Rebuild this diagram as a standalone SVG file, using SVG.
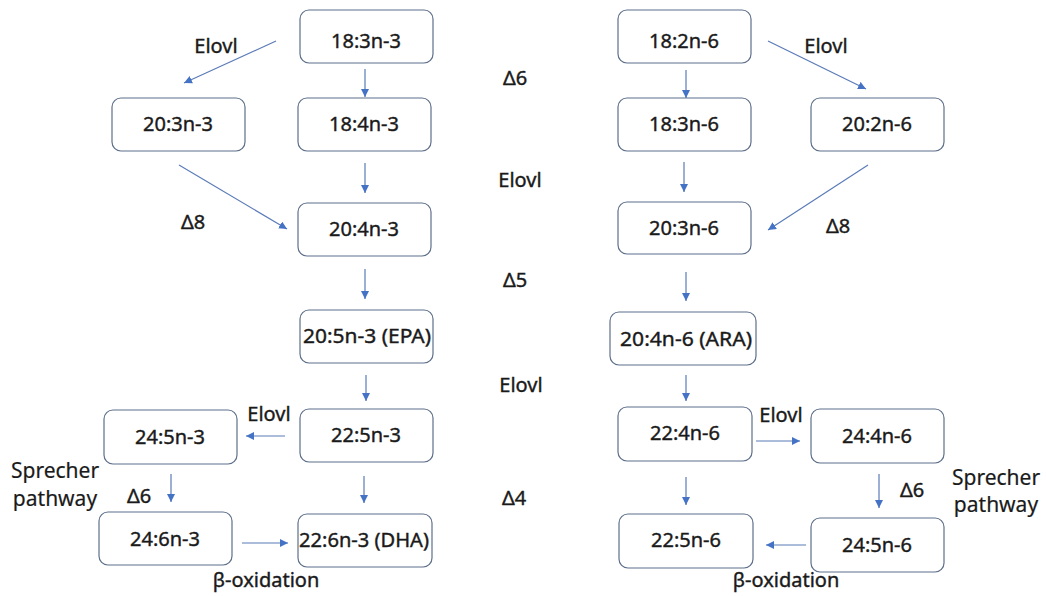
<svg xmlns="http://www.w3.org/2000/svg" width="1046" height="596" viewBox="0 0 1046 596">
<defs>
<marker id="ah" viewBox="0 0 10 10" refX="10" refY="5" markerWidth="8" markerHeight="8" markerUnits="userSpaceOnUse" orient="auto">
<path d="M0,0 L10,5 L0,10 z" fill="#4472C4"/>
</marker>
<style>
.box{fill:#fff;stroke:#5d6f8a;stroke-width:1.2}
.t{font-family:"Noto Sans","DejaVu Sans",sans-serif;font-size:20px;fill:#1a1a1a;stroke:#1a1a1a;stroke-width:0.4;text-anchor:middle}
.l{font-family:"Noto Sans","DejaVu Sans",sans-serif;font-size:20px;fill:#1a1a1a;stroke:#1a1a1a;stroke-width:0.4;text-anchor:middle}
.s{font-size:21px;stroke-width:0.2}
.c{stroke:#5b7bb8;stroke-width:1.2;fill:none;marker-end:url(#ah)}
</style>
</defs>
<rect width="1046" height="596" fill="#fff"/>
<g id="n1"><rect class="box" x="300" y="10" width="133" height="53" rx="9"/><text class="t" x="366" y="48">18:3n-3</text></g>
<g id="n2"><rect class="box" x="298" y="98" width="133" height="53" rx="9"/><text class="t" x="364" y="131">18:4n-3</text></g>
<g id="n3"><rect class="box" x="112" y="98" width="133" height="53" rx="9"/><text class="t" x="178" y="131">20:3n-3</text></g>
<g id="n4"><rect class="box" x="298" y="203" width="133" height="53" rx="9"/><text class="t" x="364" y="236">20:4n-3</text></g>
<g id="n5"><rect class="box" x="300" y="310" width="133" height="53" rx="9"/><text class="t" x="367" y="343" textLength="128" lengthAdjust="spacingAndGlyphs">20:5n-3 (EPA)</text></g>
<g id="n6"><rect class="box" x="300" y="409" width="133" height="53" rx="9"/><text class="t" x="366" y="442">22:5n-3</text></g>
<g id="n7"><rect class="box" x="104" y="410" width="133" height="54" rx="9"/><text class="t" x="170" y="444">24:5n-3</text></g>
<g id="n8"><rect class="box" x="99" y="512" width="133" height="53" rx="9"/><text class="t" x="165" y="546">24:6n-3</text></g>
<g id="n9"><rect class="box" x="298" y="514" width="134" height="53" rx="9"/><text class="t" x="364" y="547" textLength="130" lengthAdjust="spacingAndGlyphs">22:6n-3 (DHA)</text></g>
<g id="m1"><rect class="box" x="618" y="10" width="133" height="53" rx="9"/><text class="t" x="684" y="48">18:2n-6</text></g>
<g id="m2"><rect class="box" x="618" y="98" width="133" height="53" rx="9"/><text class="t" x="684" y="131">18:3n-6</text></g>
<g id="m3"><rect class="box" x="811" y="98" width="133" height="53" rx="9"/><text class="t" x="877" y="131">20:2n-6</text></g>
<g id="m4"><rect class="box" x="618" y="202" width="133" height="52" rx="9"/><text class="t" x="684" y="235">20:3n-6</text></g>
<g id="m5"><rect class="box" x="610" y="312" width="146" height="53" rx="9"/><text class="t" x="686" y="346" textLength="132" lengthAdjust="spacingAndGlyphs">20:4n-6 (ARA)</text></g>
<g id="m6"><rect class="box" x="618" y="407" width="134" height="54" rx="9"/><text class="t" x="685" y="440">22:4n-6</text></g>
<g id="m7"><rect class="box" x="811" y="409" width="133" height="54" rx="9"/><text class="t" x="877" y="443">24:4n-6</text></g>
<g id="m8"><rect class="box" x="619" y="514" width="134" height="54" rx="9"/><text class="t" x="686" y="547">22:5n-6</text></g>
<g id="m9"><rect class="box" x="811" y="518" width="133" height="54" rx="9"/><text class="t" x="877" y="552">24:5n-6</text></g>
<g id="connectors">
<line class="c" x1="276" y1="41" x2="184" y2="83"/>
<line class="c" x1="365" y1="69" x2="365" y2="97"/>
<line class="c" x1="365" y1="163" x2="365" y2="193"/>
<line class="c" x1="179" y1="165" x2="287" y2="229"/>
<line class="c" x1="365" y1="269" x2="365" y2="299"/>
<line class="c" x1="366" y1="375" x2="366" y2="401"/>
<line class="c" x1="285" y1="436" x2="246" y2="436"/>
<line class="c" x1="364" y1="476" x2="364" y2="503"/>
<line class="c" x1="171" y1="474" x2="171" y2="502"/>
<line class="c" x1="242" y1="543" x2="288" y2="543"/>
<line class="c" x1="686" y1="70" x2="686" y2="98"/>
<line class="c" x1="768" y1="41" x2="866" y2="89"/>
<line class="c" x1="684" y1="162" x2="684" y2="192"/>
<line class="c" x1="868" y1="165" x2="768" y2="230"/>
<line class="c" x1="686" y1="272" x2="686" y2="301"/>
<line class="c" x1="686" y1="375" x2="686" y2="401"/>
<line class="c" x1="756" y1="441" x2="800" y2="441"/>
<line class="c" x1="686" y1="477" x2="686" y2="505"/>
<line class="c" x1="879" y1="474" x2="879" y2="508"/>
<line class="c" x1="806" y1="545" x2="766" y2="545"/>
</g>
<g id="labels">
<text class="l" x="216" y="53">Elovl</text>
<text class="l" x="826" y="53">Elovl</text>
<text class="l" x="515" y="85">Δ6</text>
<text class="l" x="520" y="187">Elovl</text>
<text class="l" x="193" y="229">Δ8</text>
<text class="l" x="838" y="233">Δ8</text>
<text class="l" x="515" y="287">Δ5</text>
<text class="l" x="521" y="392">Elovl</text>
<text class="l" x="269" y="421">Elovl</text>
<text class="l" x="781" y="422">Elovl</text>
<text class="l" x="514" y="505">Δ4</text>
<text class="l" x="139" y="503">Δ6</text>
<text class="l" x="912" y="497">Δ6</text>
<text class="l s" x="55" y="478">Sprecher</text>
<text class="l s" x="55" y="506">pathway</text>
<text class="l s" x="996" y="485">Sprecher</text>
<text class="l s" x="996" y="512">pathway</text>
<text class="l" x="266" y="587">β-oxidation</text>
<text class="l" x="786" y="587">β-oxidation</text>
</g>
</svg>
